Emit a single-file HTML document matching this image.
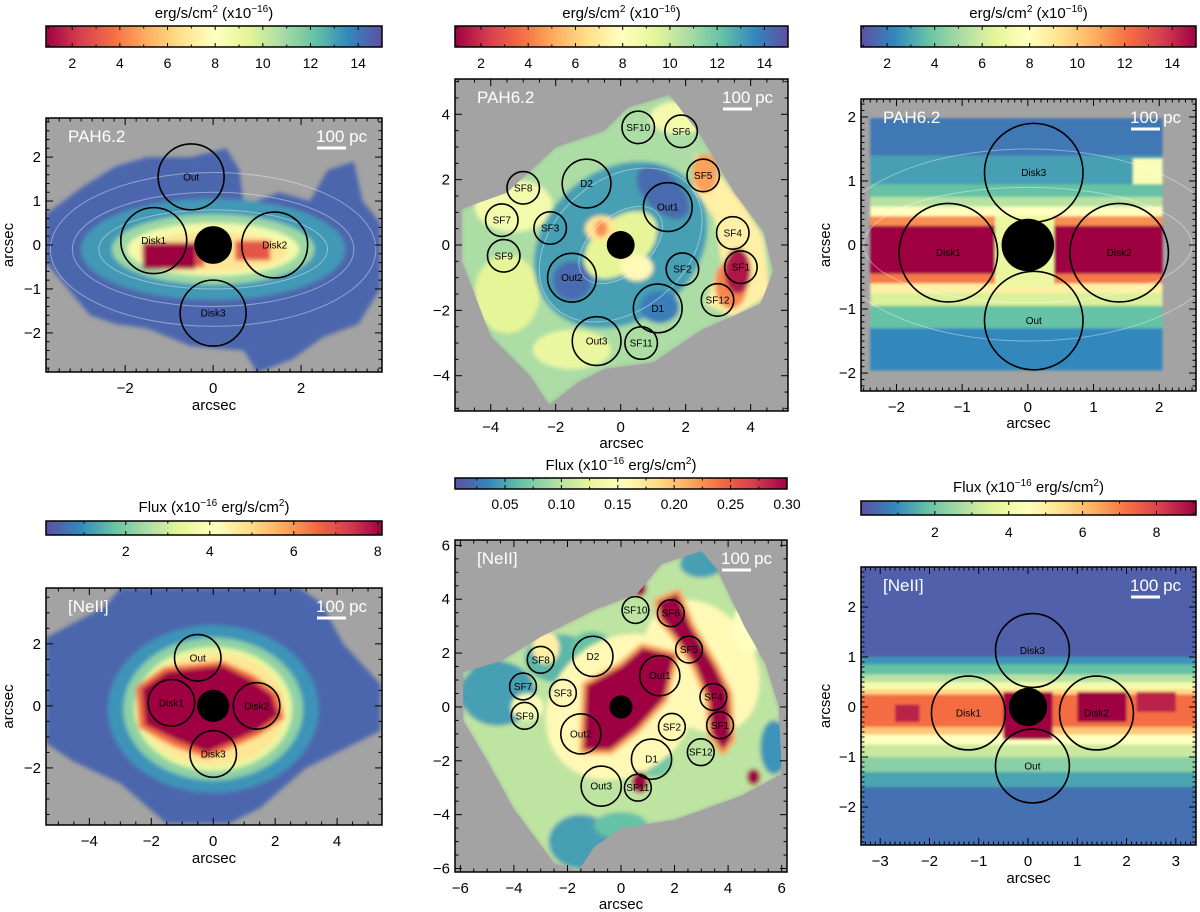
<!DOCTYPE html>
<html><head><meta charset="utf-8"><title>PAH6.2 and [NeII] maps</title>
<style>
html,body{margin:0;padding:0;background:#fff;}
svg{display:block;font-family:"Liberation Sans",sans-serif;}
</style></head>
<body>
<svg id="fig" width="1200" height="912" viewBox="0 0 1200 912" xmlns="http://www.w3.org/2000/svg">
<defs>
<filter id="blur2" x="-5%" y="-5%" width="110%" height="110%"><feGaussianBlur stdDeviation="2.2"/></filter>
<filter id="blur1" x="-5%" y="-5%" width="110%" height="110%"><feGaussianBlur stdDeviation="1.2"/></filter>
</defs>
</svg>
<script>
// ---------- colormap (Spectral_r) ----------
const SPECTRAL = ['#5e4fa2','#3288bd','#66c2a5','#abdda4','#e6f598','#ffffbf','#fee08b','#fdae61','#f46d43','#d53e4f','#9e0142'];

// ---------- colorbar data ----------
const CB1_RANGE = [0.9, 15];   const CB1_TICKS = [2,4,6,8,10,12,14];
const CB2_RANGE = [0.9, 15];   const CB2_TICKS = [2,4,6,8,10,12,14];
const CB3_RANGE = [0.9, 15];   const CB3_TICKS = [2,4,6,8,10,12,14];
const CB4_RANGE = [0.1, 8.1];  const CB4_TICKS = [2,4,6,8];
const CB5_RANGE = [0.0057, 0.30]; const CB5_TICKS = [0.05,0.10,0.15,0.20,0.25,0.30];
const CB6_RANGE = [0, 9.07];   const CB6_TICKS = [2,4,6,8];

// ---------- aperture data (arcsec) ----------
const APA_NAMES = ['Out','Disk1','Disk2','Disk3'];
const APA_X = [-0.5,-1.35,1.4,0];
const APA_Y = [1.55,0.1,0,-1.55];
const APA_R = [0.75,0.75,0.75,0.75];

const APB_NAMES = ['SF10','SF6','SF5','Out1','D2','SF8','SF7','SF3','SF9','SF4','SF1','SF2','Out2','D1','SF12','Out3','SF11'];
const APB_X = [0.54,1.86,2.54,1.45,-1.05,-3.0,-3.66,-2.17,-3.6,3.45,3.7,1.9,-1.5,1.14,2.98,-0.74,0.63];
const APB_Y = [3.6,3.48,2.13,1.16,1.88,1.75,0.76,0.52,-0.33,0.37,-0.68,-0.74,-1.0,-1.94,-1.68,-2.94,-3.0];
const APB_R = [0.5,0.5,0.5,0.75,0.75,0.5,0.5,0.5,0.5,0.5,0.5,0.5,0.75,0.75,0.5,0.75,0.5];

const APC_NAMES = ['Disk3','Disk1','Disk2','Out'];
const APC_X = [0.09,-1.21,1.39,0.09];
const APC_Y = [1.13,-0.12,-0.12,-1.18];
const APC_R = [0.75,0.75,0.75,0.75];

const NUC_R = [0.43,0.43,0.40,0.52,0.43,0.39];

// ---------- map emission layers (arcsec coords, t = colormap fraction) ----------
const MAP1 = [
 {k:'p',t:0.04,pts:[[-3.8,0.7],[-3.0,1.3],[-2.2,1.8],[-1.5,2.0],[-0.5,2.0],[0.3,2.2],[0.6,1.7],[0.7,0.9],[1.5,1.2],[2.2,1.0],[2.6,1.7],[3.2,1.9],[3.4,1.0],[3.8,0.5],[3.8,-1.0],[3.3,-1.8],[2.5,-2.1],[1.8,-2.6],[1.0,-2.9],[0.7,-2.4],[-0.5,-2.3],[-1.5,-1.9],[-2.2,-1.8],[-2.8,-1.6],[-3.3,-1.0],[-3.8,-0.4]]},
 {k:'e',t:0.13,c:[0,-0.1],r:[3.0,1.15],a:0},
 {k:'e',t:0.28,c:[0,-0.1],r:[2.3,0.8],a:0},
 {k:'e',t:0.45,c:[0,-0.1],r:[1.95,0.6],a:0},
 {k:'e',t:0.58,c:[0,-0.15],r:[1.7,0.45],a:0},
 {k:'r',t:1.0,x:[-1.6,-0.4],y:[-0.55,0.05]},
 {k:'r',t:0.85,x:[-0.4,-0.2],y:[-0.5,0.1]},
 {k:'r',t:0.85,x:[0.5,1.3],y:[-0.35,0.1]},
 {k:'c',c:[0,-0.1],r:[2.6,0.9],a:0},{k:'c',c:[0,-0.1],r:[3.2,1.3],a:0},{k:'c',c:[0,-0.1],r:[3.7,1.75],a:0}
];
const FIELD2 = [[-4.9,1.1],[-3.5,1.6],[-2,3],[-0.5,3.5],[0.2,4.2],[1.5,4.6],[2.5,3.3],[3.5,1.6],[4.4,0.4],[4.7,-0.8],[4.3,-1.8],[2.5,-2.6],[1,-3.6],[-0.5,-3.8],[-1.3,-4.2],[-2.2,-4.9],[-2.8,-4.0],[-4,-2.8],[-4.5,-1.5],[-4.9,-0.5]];
const MAP2 = [
 {k:'p',t:0.3,pts:FIELD2},
 {k:'e',t:0.45,c:[-3.3,1.2],r:[1.2,0.8],a:0},
 {k:'e',t:0.4,c:[-3.5,-1.5],r:[1.0,1.2],a:0},
 {k:'e',t:0.42,c:[-1.5,-3.2],r:[1.2,0.6],a:0},
 {k:'e',t:0.45,c:[1.8,3.9],r:[0.9,0.5],a:0},
 {k:'e',t:0.14,c:[0,0],r:[2.9,2.3],a:40},
 {k:'e',t:0.05,c:[1.3,1.6],r:[1.0,0.55],a:-45},
 {k:'e',t:0.05,c:[-1.5,-1.1],r:[0.6,0.6],a:0},
 {k:'e',t:0.08,c:[1.2,-1.9],r:[0.6,0.5],a:0},
 {k:'e',t:0.4,c:[0,0],r:[1.3,0.8],a:40},
 {k:'e',t:0.58,c:[-0.6,0.5],r:[0.5,0.4],a:0},
 {k:'e',t:0.75,c:[-0.6,0.5],r:[0.2,0.25],a:0},
 {k:'e',t:0.52,c:[0.5,-0.7],r:[0.5,0.4],a:0},
 {k:'p',t:0.55,pts:[[2.3,2.8],[3,2.2],[3.8,1.2],[4.4,0.2],[4.6,-1.5],[3.5,-2.2],[2.6,-1.8],[3.1,-0.5],[2.9,0.8],[2.2,1.8]]},
 {k:'e',t:0.72,c:[2.6,2.2],r:[0.4,0.6],a:0},
 {k:'e',t:0.76,c:[3.4,-1.2],r:[0.5,0.75],a:0},
 {k:'e',t:0.97,c:[3.6,-0.8],r:[0.4,0.7],a:0},
 {k:'c',c:[0,0],r:[1.5,0.9],a:40},{k:'c',c:[0,0],r:[2.8,2.0],a:40}
];
const MAP3 = [
 {k:'b',t:0,x:[-2.4,2.05],ys:[1.98,1.4,0.95,0.75,0.6,0.45,0.3,-0.45,-0.6,-0.75,-0.95,-1.3,-1.95],ts:[0.07,0.14,0.2,0.32,0.5,0.75,1.0,0.78,0.55,0.38,0.2,0.1]},
 {k:'r',t:0.42,x:[-0.5,0.4],y:[-0.65,0.45]},
 {k:'r',t:0.48,x:[1.6,2.05],y:[0.95,1.35]},
 {k:'c',c:[0,0],r:[2.5,0.9],a:0},{k:'c',c:[0,0],r:[3.0,1.5],a:0}
];
const MAP4 = [
 {k:'p',t:0.04,pts:[[-5.4,2.2],[-3.5,3.2],[-3,3.8],[2.8,3.8],[3.5,3.3],[4.2,2],[5.4,0.7],[5.4,-0.8],[3,-2],[1.5,-3.3],[0.5,-3.8],[-1.5,-3.8],[-3,-2.5],[-4.5,-1.8],[-5.4,-1.2]]},
 {k:'e',t:0.12,c:[0,-0.1],r:[3.4,2.7],a:0},
 {k:'e',t:0.26,c:[0,-0.1],r:[2.9,2.3],a:0},
 {k:'e',t:0.42,c:[0,-0.1],r:[2.55,2.0],a:0},
 {k:'e',t:0.58,c:[0,-0.1],r:[2.35,1.8],a:0},
 {k:'p',t:0.8,pts:[[-2.5,0.6],[-1.6,1.25],[-0.6,1.35],[0.3,1.45],[1.3,1.0],[2.1,0.4],[2.3,-0.4],[1.5,-0.95],[0.5,-1.4],[-0.2,-1.7],[-1.3,-1.3],[-2.4,-0.7]]},
 {k:'p',t:1.0,pts:[[-2.3,0.55],[-1.5,1.1],[-0.6,1.2],[0.3,1.3],[1.2,0.85],[1.9,0.35],[2.1,-0.3],[1.4,-0.8],[0.5,-1.2],[-0.2,-1.5],[-1.2,-1.1],[-2.2,-0.6]]}
];
const FIELD5 = [[-5.9,1.3],[-4.5,1.7],[-3,2.6],[-1,3.6],[0.6,4.2],[1.5,5.3],[3,5.8],[3.6,5.1],[4.6,3],[5.4,1.6],[5.9,0],[6.0,-2.5],[4.5,-3.3],[2,-4.2],[0,-4.5],[-1,-5.2],[-1.6,-6.1],[-2.5,-5.8],[-4,-3.8],[-5,-2],[-5.9,-0.5]];
const MAP5 = [
 {k:'p',t:0.33,pts:FIELD5},
 {k:'e',t:0.14,c:[-4.6,0.5],r:[1.4,1.2],a:0},
 {k:'e',t:0.18,c:[-2.3,1.8],r:[1.3,0.9],a:0},
 {k:'e',t:0.2,c:[-1.1,2.2],r:[0.8,0.6],a:0},
 {k:'e',t:0.14,c:[-1.5,-5.0],r:[1.2,1.0],a:0},
 {k:'e',t:0.2,c:[0,-4.4],r:[1.0,0.5],a:0},
 {k:'e',t:0.14,c:[3.0,5.3],r:[0.8,0.5],a:0},
 {k:'e',t:0.12,c:[5.7,-1.5],r:[0.5,1.0],a:0},
 {k:'e',t:0.22,c:[1.3,-2.0],r:[0.6,0.6],a:0},
 {k:'e',t:0.52,c:[0,0],r:[3.0,2.5],a:40},
 {k:'e',t:0.52,c:[3.0,1.5],r:[2.0,2.6],a:30},
 {k:'e',t:0.5,c:[4.8,3.0],r:[0.6,1.0],a:0},
 {k:'e',t:0.55,c:[-2.8,2.2],r:[0.5,0.6],a:0},
 {k:'e',t:0.48,c:[-3.5,0],r:[0.6,0.5],a:0},
 {k:'o',t:1.0,pts:[[-1.4,-1.6],[-1.3,0.8],[0,1.5],[0.8,2.2],[2.0,1.9],[1.6,0.3],[0.6,-0.8],[-0.4,-1.6]]},
 {k:'o',t:1.0,pts:[[1.4,3.9],[2.1,4.2],[2.6,3.0],[3.5,1.5],[4.0,0.5],[4.1,-1.2],[3.8,-1.6],[3.4,-1.0],[3.3,0.3],[2.8,1.5],[2.0,2.7],[1.5,3.3]]},
 {k:'e',t:1.0,c:[0.7,-2.8],r:[0.3,0.4],a:0},
 {k:'e',t:1.0,c:[4.95,-2.6],r:[0.25,0.3],a:0},
 {k:'e',t:1.0,c:[0.7,4.4],r:[0.25,0.3],a:0}
];
const MAP6 = [
 {k:'b',t:0,x:[-3.39,3.41],ys:[2.8,1.0,0.85,0.65,0.5,0.35,0.25,-0.4,-0.55,-0.75,-1.0,-1.3,-1.6,-2.76],ts:[0.03,0.12,0.2,0.32,0.45,0.62,0.8,0.65,0.5,0.35,0.25,0.15,0.06]},
 {k:'r',t:1.0,x:[1.0,2.0],y:[-0.3,0.3]},
 {k:'r',t:1.0,x:[-0.5,0.5],y:[-0.65,0.3]},
 {k:'r',t:0.95,x:[-2.7,-2.2],y:[-0.3,0.05]},
 {k:'r',t:0.95,x:[2.2,3.0],y:[-0.1,0.3]}
];

// ---------- helpers ----------
const NS='http://www.w3.org/2000/svg';
const svg=document.getElementById('fig');
function mk(tag,attrs,parent){const e=document.createElementNS(NS,tag);for(const k in attrs)e.setAttribute(k,attrs[k]);(parent||svg).appendChild(e);return e;}
function hex(h){return [parseInt(h.slice(1,3),16),parseInt(h.slice(3,5),16),parseInt(h.slice(5,7),16)];}
function cmap(t){t=Math.max(0,Math.min(1,t));const f=t*(SPECTRAL.length-1);const i=Math.min(SPECTRAL.length-2,Math.floor(f));const u=f-i;const a=hex(SPECTRAL[i]),b=hex(SPECTRAL[i+1]);return 'rgb('+a.map((v,j)=>Math.round(v+(b[j]-v)*u)).join(',')+')';}
function fmt(v){return (v<0?'\u2212':'')+Math.abs(v);}

let gradId=0;
function colorbar(name,box,range,ticks,reversed,title,titleY,labY,dec){
  const g=mk('g',{});
  
  
  const id='cg'+(gradId++);
  const lg=mk('linearGradient',{id:id,x1:'0',x2:'1',y1:'0',y2:'0'},svg.querySelector('defs'));
  const cols=reversed?SPECTRAL.slice().reverse():SPECTRAL;
  cols.forEach((c,i)=>{mk('stop',{offset:i/(cols.length-1),'stop-color':c},lg);});
  const [x0,y0,x1,y1]=box;
  const r=mk('rect',{x:x0,y:y0,width:x1-x0,height:y1-y0,fill:'url(#'+id+')',stroke:'#000','stroke-width':1.5},g);
  
  
  const sx=v=>x0+(v-range[0])/(range[1]-range[0])*(x1-x0);
  const step=ticks[1]-ticks[0];
  for(let v=ticks[0]-step/2;v<=range[1]+1e-9;v+=step/2){
    if(v<range[0])continue;
    const major=Math.abs((v-ticks[0])/step-Math.round((v-ticks[0])/step))<1e-6;
    const L=major?4:2.5;
    mk('line',{x1:sx(v),x2:sx(v),y1:y1,y2:y1-L,stroke:'#000','stroke-width':1},g);
    mk('line',{x1:sx(v),x2:sx(v),y1:y0,y2:y0+L,stroke:'#000','stroke-width':1},g);
  }
  ticks.forEach(v=>{
    const t=mk('text',{x:sx(v),y:labY,'text-anchor':'middle','font-size':14,fill:'#000'},g);
    t.textContent=dec?v.toFixed(2):String(v);
    
    
  });
  const tt=mk('text',{x:(x0+x1)/2,y:titleY,'text-anchor':'middle','font-size':15,fill:'#000'},g);
  
  
  if(title==='erg'){
    tt.innerHTML='erg/s/cm<tspan font-size="10" dy="-6">2</tspan><tspan dy="6"> (x10</tspan><tspan font-size="10" dy="-6">\u221216</tspan><tspan dy="6">)</tspan>';
  } else {
    tt.innerHTML='Flux (x10<tspan font-size="10" dy="-6">\u221216</tspan><tspan dy="6"> erg/s/cm</tspan><tspan font-size="10" dy="-6">2</tspan><tspan dy="6">)</tspan>';
  }
}

let clipId=0;
function panel(name,box,xr,yr,xt,yt,minX,minY,layers,clipPoly,apN,apX,apY,apR,nucR,label,labY,tickY,yLabX,blur){
  const [X0,Y0,X1,Y1]=box;
  const sx=v=>X0+(v-xr[0])/(xr[1]-xr[0])*(X1-X0);
  const sy=v=>Y0+(yr[1]-v)/(yr[1]-yr[0])*(Y1-Y0);
  const g=mk('g',{});
  
  
  const cid='clip'+(clipId++);
  const cp=mk('clipPath',{id:cid},svg.querySelector('defs'));
  mk('rect',{x:X0,y:Y0,width:X1-X0,height:Y1-Y0},cp);
  const bg=mk('rect',{x:X0,y:Y0,width:X1-X0,height:Y1-Y0,fill:'#a3a3a3'},g);
  
  
  const mg=mk('g',{'clip-path':'url(#'+cid+')'},g);
  
  
  let inner=mg;
  if(clipPoly){
    const fid='clip'+(clipId++);
    const fcp=mk('clipPath',{id:fid},svg.querySelector('defs'));
    mk('polygon',{points:clipPoly.map(p=>sx(p[0])+','+sy(p[1])).join(' ')},fcp);
    inner=mk('g',{'clip-path':'url(#'+fid+')'},mg);
  }
  const fg=mk('g',{filter:'url(#'+blur+')'},inner);
  const cg=mk('g',{},inner);
  layers.forEach(L=>{
    let e;
    if(L.k==='p'||L.k==='o'){
      if(L.k==='o'){mk('polygon',{points:L.pts.map(p=>sx(p[0])+','+sy(p[1])).join(' '),fill:cmap(0.72),stroke:cmap(0.72),'stroke-width':9,'stroke-linejoin':'round'},fg);}
      e=mk('polygon',{points:L.pts.map(p=>sx(p[0])+','+sy(p[1])).join(' '),fill:cmap(L.t)},fg);
    } else if(L.k==='e'){
      const cx=sx(L.c[0]),cy=sy(L.c[1]);
      e=mk('ellipse',{cx:cx,cy:cy,rx:sx(L.r[0])-sx(0),ry:sy(0)-sy(L.r[1]),fill:cmap(L.t),transform:'rotate('+(-L.a)+' '+cx+' '+cy+')'},fg);
    } else if(L.k==='r'){
      e=mk('rect',{x:sx(L.x[0]),y:sy(L.y[1]),width:sx(L.x[1])-sx(L.x[0]),height:sy(L.y[0])-sy(L.y[1]),fill:cmap(L.t)},fg);
    } else if(L.k==='b'){
      for(let i=0;i<L.ts.length;i++){
        mk('rect',{x:sx(L.x[0]),y:sy(L.ys[i]),width:sx(L.x[1])-sx(L.x[0]),height:sy(L.ys[i+1])-sy(L.ys[i])+0.5,fill:cmap(L.ts[i])},fg);
      }
      return;
    } else if(L.k==='c'){
      const cx=sx(L.c[0]),cy=sy(L.c[1]);
      e=mk('ellipse',{cx:cx,cy:cy,rx:sx(L.r[0])-sx(0),ry:sy(0)-sy(L.r[1]),fill:'none',stroke:'#fff','stroke-opacity':0.4,'stroke-width':1,transform:'rotate('+(-L.a)+' '+cx+' '+cy+')'},cg);
      
      
      return;
    }
  });
  apN.forEach((n,i)=>{
    const ap=mk('g',{},mg);
    
    
    mk('circle',{cx:sx(apX[i]),cy:sy(apY[i]),r:sx(apR[i])-sx(0),fill:'none',stroke:'#000','stroke-width':1.6},ap);
    const t=mk('text',{x:sx(apX[i]),y:sy(apY[i])+3.5,'text-anchor':'middle','font-size':10,fill:'#000'},ap);
    t.textContent=n;
  });
  const nuc=mk('circle',{cx:sx(0),cy:sy(0),r:sx(nucR)-sx(0),fill:'#000'},mg);
  
  
  const lt=mk('text',{x:X0+22,y:Y0+24,'font-size':17,fill:'#fff'},g);
  lt.textContent=label;
  
  
  const sb=mk('text',{x:X1-66,y:Y0+24,'font-size':17,fill:'#fff'},g);
  sb.textContent='100 pc';
  
  
  const sl=mk('line',{x1:X1-65,x2:X1-36,y1:Y0+30,y2:Y0+30,stroke:'#fff','stroke-width':3},g);
  
  
  mk('rect',{x:X0,y:Y0,width:X1-X0,height:Y1-Y0,fill:'none',stroke:'#000','stroke-width':1.5},g);
  const tg=mk('g',{stroke:'#000','stroke-width':1},g);
  for(let v=Math.ceil(xr[0]/minX)*minX;v<=xr[1];v+=minX){
    const maj=xt.some(m=>Math.abs(m-v)<1e-6);const L=maj?7:3.5;
    mk('line',{x1:sx(v),x2:sx(v),y1:Y1,y2:Y1-L},tg);mk('line',{x1:sx(v),x2:sx(v),y1:Y0,y2:Y0+L},tg);
  }
  for(let v=Math.ceil(yr[0]/minY)*minY;v<=yr[1];v+=minY){
    const maj=yt.some(m=>Math.abs(m-v)<1e-6);const L=maj?7:3.5;
    mk('line',{y1:sy(v),y2:sy(v),x1:X0,x2:X0+L},tg);mk('line',{y1:sy(v),y2:sy(v),x1:X1,x2:X1-L},tg);
  }
  xt.forEach(v=>{const t=mk('text',{x:sx(v),y:tickY,'text-anchor':'middle','font-size':15,fill:'#000'},g);t.textContent=fmt(v);
    
    });
  yt.forEach(v=>{const t=mk('text',{x:X0-5,y:sy(v)+5,'text-anchor':'end','font-size':15,fill:'#000'},g);t.textContent=fmt(v);
    
    });
  const xl=mk('text',{x:(X0+X1)/2,y:labY,'text-anchor':'middle','font-size':15,fill:'#000'},g);
  xl.textContent='arcsec';
  
  
  if(yLabX){
    const cy=(Y0+Y1)/2;
    const yl=mk('text',{x:yLabX,y:cy,'text-anchor':'middle','font-size':15,fill:'#000',transform:'rotate(-90 '+yLabX+' '+cy+')'},g);
    yl.textContent='arcsec';
    
    
  }
}

colorbar('colorbar-pah-left',[46,26,382,47],CB1_RANGE,CB1_TICKS,true,'erg',18,68,false);
colorbar('colorbar-pah-middle',[455,26,788,47],CB2_RANGE,CB2_TICKS,true,'erg',18,68,false);
colorbar('colorbar-pah-right',[861,26,1196,47],CB3_RANGE,CB3_TICKS,false,'erg',18,68,false);
colorbar('colorbar-neii-left',[46,521,382,535],CB4_RANGE,CB4_TICKS,false,'flux',512,556,false);
colorbar('colorbar-neii-middle',[455,478,787,489],CB5_RANGE,CB5_TICKS,false,'flux',470,509,true);
colorbar('colorbar-neii-right',[861,501,1196,515],CB6_RANGE,CB6_TICKS,false,'flux',492,537,false);

panel('panel-pah-left',[46,118,382,372],[-3.8,3.84],[-2.89,2.89],[-2,0,2],[-2,-1,0,1,2],0.25,0.2,MAP1,null,APA_NAMES,APA_X,APA_Y,APA_R,NUC_R[0],'PAH6.2',410,393,13,'blur2');
panel('panel-pah-middle',[455,79,788,411],[-5.1,5.15],[-5.08,5.08],[-4,-2,0,2,4],[-4,-2,0,2,4],0.5,0.5,MAP2,FIELD2,APB_NAMES,APB_X,APB_Y,APB_R,NUC_R[1],'PAH6.2',448,432,null,'blur2');
panel('panel-pah-right',[861,99,1196,391],[-2.54,2.56],[-2.28,2.28],[-2,-1,0,1,2],[-2,-1,0,1,2],0.1,0.1,MAP3,null,APC_NAMES,APC_X,APC_Y,APC_R,NUC_R[2],'PAH6.2',428,412,830,'blur1');
panel('panel-neii-left',[46,588,382,825],[-5.4,5.45],[-3.84,3.8],[-4,-2,0,2,4],[-2,0,2],0.5,0.5,MAP4,null,APA_NAMES,APA_X,APA_Y,APA_R,NUC_R[3],'[NeII]',863,846,13,'blur2');
panel('panel-neii-middle',[455,540,787,872],[-6.2,6.2],[-6.13,6.2],[-6,-4,-2,0,2,4,6],[-6,-4,-2,0,2,4,6],0.5,0.5,MAP5,FIELD5,APB_NAMES,APB_X,APB_Y,APB_R,NUC_R[4],'[NeII]',909,893,null,'blur2');
panel('panel-neii-right',[861,567,1196,845],[-3.39,3.41],[-2.76,2.8],[-3,-2,-1,0,1,2,3],[-2,-1,0,1,2],0.1,0.1,MAP6,null,APC_NAMES,APC_X,APC_Y,APC_R,NUC_R[5],'[NeII]',883,866,830,'blur1');
</script>
</body></html>
